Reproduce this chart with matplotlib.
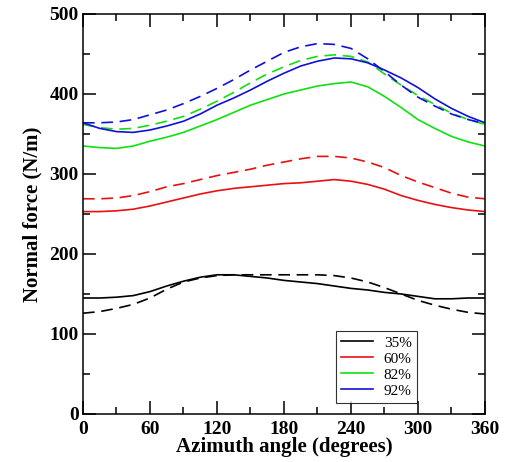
import matplotlib
matplotlib.use('Agg')
import matplotlib.pyplot as plt
import numpy as np

# azimuth angles (degrees)
angle = np.arange(0, 361, 15)

# normal force (N/m), solid = one model, dashed = the other
f35 = [145, 145, 146, 148, 153, 160, 166, 171, 174, 174, 172, 170, 167,
       165, 163, 160, 157, 155, 152, 150, 147, 144, 144, 145, 145]
f35_d = [126, 128, 132, 137, 145, 156, 165, 170, 173, 174, 174, 174, 174,
         174, 174, 173, 170, 165, 158, 150, 142, 136, 131, 127, 125]
f60 = [253, 253, 254, 256, 260, 265, 270, 275, 279, 282, 284, 286, 288,
       289, 291, 293, 291, 287, 281, 273, 267, 262, 258, 255, 253]
f60_d = [269, 269, 270, 273, 278, 284, 288, 293, 298, 302, 306, 311, 315,
         319, 322, 322, 320, 315, 308, 298, 290, 283, 276, 271, 269]
f82 = [335, 333, 332, 335, 341, 346, 352, 360, 368, 377, 386, 393, 400,
       405, 410, 413, 415, 409, 397, 383, 368, 357, 347, 340, 335]
f82_d = [362, 358, 356, 357, 361, 366, 372, 381, 391, 402, 414, 425, 434,
         442, 447, 449, 447, 440, 425, 411, 398, 387, 376, 368, 362]
f92 = [364, 357, 353, 352, 355, 360, 366, 375, 386, 395, 405, 416, 426,
       435, 441, 445, 444, 439, 430, 420, 408, 394, 382, 372, 364]
f92_d = [364, 364, 365, 368, 374, 380, 388, 397, 407, 418, 430, 441, 452,
         459, 463, 462, 457, 444, 428, 411, 396, 385, 375, 368, 363]

labels = ['35%', '60%', '82%', '92%']
colors = ['black', '#e81010', '#10e010', '#1010d8']
solid = [f35, f60, f82, f92]
dashed = [f35_d, f60_d, f82_d, f92_d]

plt.rcParams['font.family'] = ['Liberation Serif', 'DejaVu Serif']

fig = plt.figure(figsize=(5.07, 4.62), dpi=100)
ax = fig.add_axes([0.1637, 0.1039, 0.7929, 0.8658])

for s, d, c, lab in zip(solid, dashed, colors, labels):
    ax.plot(angle, s, color=c, lw=1.2, label=lab)
    ax.plot(angle, d, color=c, lw=1.2, dashes=(7, 4))

ax.set_xlim(0, 360)
ax.set_ylim(0, 500)
ax.set_xticks(np.arange(0, 361, 60))
ax.set_xticks(np.arange(0, 361, 30), minor=True)
ax.set_yticks(np.arange(0, 501, 100))
ax.set_yticks(np.arange(0, 501, 50), minor=True)
ax.tick_params(which='both', direction='in', top=True, right=True, width=1.1)
ax.tick_params(which='major', length=9.5, labelsize=14)
ax.tick_params(axis='x', which='major', pad=5)
ax.tick_params(axis='y', which='major', pad=3)
ax.tick_params(which='minor', length=5)
for lab in ax.get_xticklabels() + ax.get_yticklabels():
    lab.set_fontweight('bold')
for sp in ax.spines.values():
    sp.set_linewidth(1.1)

ax.set_xlabel('Azimuth angle (degrees)', fontsize=15, fontweight='bold', labelpad=-1)
ax.set_ylabel('Normal force (N/m)', fontsize=15, fontweight='bold', labelpad=5)

leg = ax.legend(loc='lower right', bbox_to_anchor=(0.831, 0.0275), borderaxespad=0,
                fontsize=11, frameon=True, fancybox=False, handlelength=2.1,
                handletextpad=0.7, labelspacing=0.15, borderpad=0.35)
leg.get_frame().set_edgecolor('black')
leg.get_frame().set_linewidth(0.8)

fig.savefig('out.png', dpi=100)
